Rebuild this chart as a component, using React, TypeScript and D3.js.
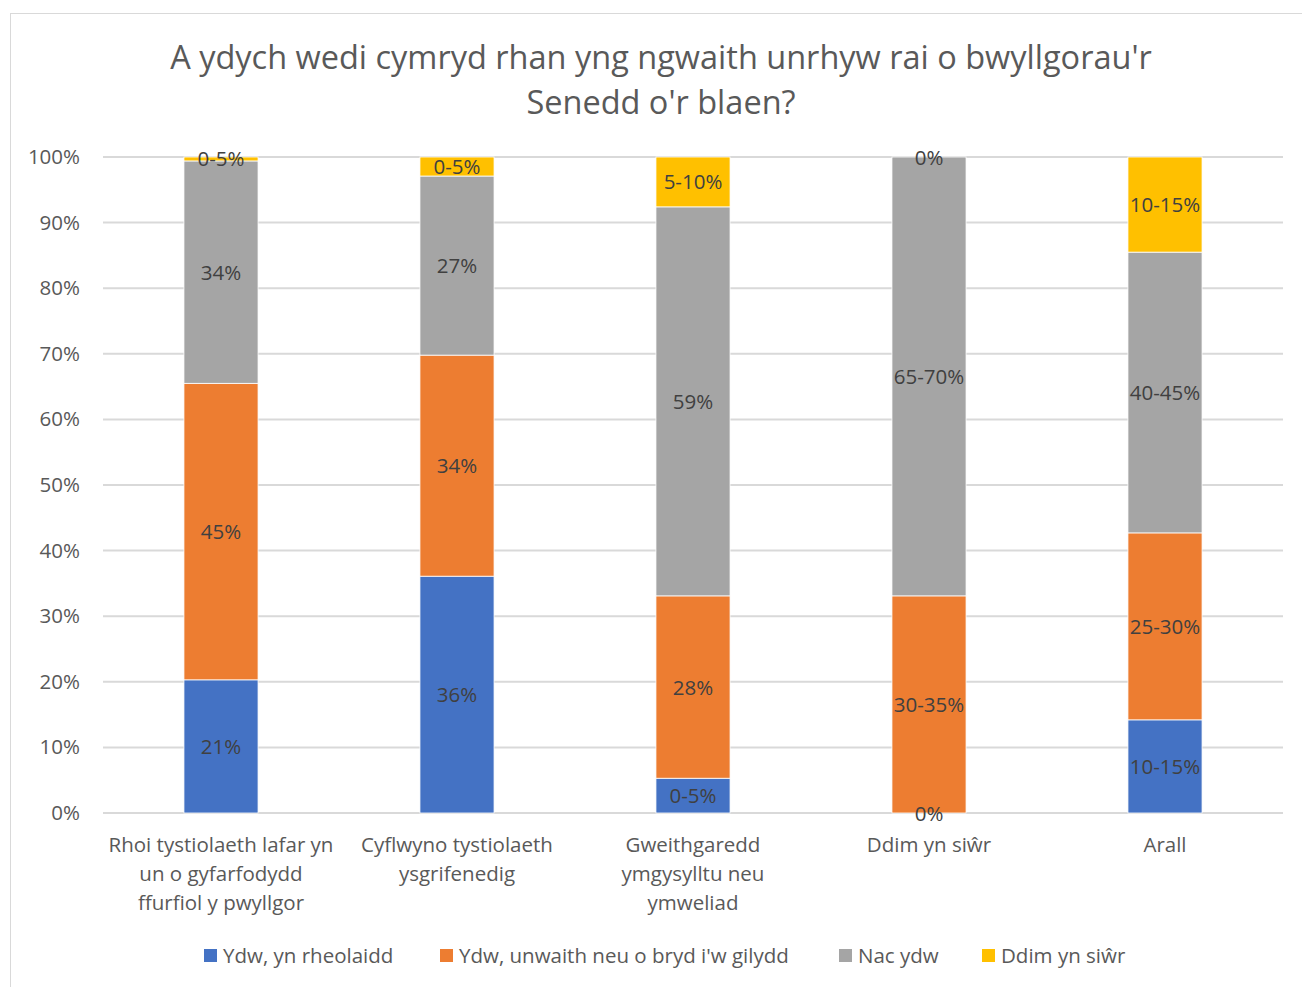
import React from "react";
import * as d3 from "d3";

const categories = [
  ["Rhoi tystiolaeth lafar yn", "un o gyfarfodydd", "ffurfiol y pwyllgor"],
  ["Cyflwyno tystiolaeth", "ysgrifenedig"],
  ["Gweithgaredd", "ymgysylltu neu", "ymweliad"],
  ["Ddim yn siŵr"],
  ["Arall"],
];
const seriesNames = [
  "Ydw, yn rheolaidd",
  "Ydw, unwaith neu o bryd i'w gilydd",
  "Nac ydw",
  "Ddim yn siŵr",
];
const colors = ["#4472c4", "#ed7d31", "#a5a5a5", "#ffc000"];

// values (%)
const regular = [20.3, 36.1, 5.3, 0, 14.2];
const occasional = [45.2, 33.7, 27.8, 33.1, 28.5];
const notYet = [33.9, 27.3, 59.3, 66.9, 42.8];
const unsure = [0.6, 2.9, 7.6, 0, 14.5];

// labels shown on the bars
const regularLabels = ["21%", "36%", "0-5%", "0%", "10-15%"];
const occasionalLabels = ["45%", "34%", "28%", "30-35%", "25-30%"];
const notYetLabels = ["34%", "27%", "59%", "65-70%", "40-45%"];
const unsureLabels = ["0-5%", "0-5%", "5-10%", "0%", "10-15%"];

const yTicks = [0, 10, 20, 30, 40, 50, 60, 70, 80, 90, 100];

const W = 1302;
const H = 987;
const FONT = "'Open Sans', sans-serif";
const FS = 20.5;

export default function App() {
  const margin = { left: 103, right: 19, top: 157, bottom: 174 };
  const x = d3
    .scaleBand<number>()
    .domain(d3.range(categories.length))
    .range([margin.left, W - margin.right])
    .paddingInner(0.686)
    .paddingOuter(0.343);
  const y = d3.scaleLinear().domain([0, 100]).range([H - margin.bottom, margin.top]);

  const values = [regular, occasional, notYet, unsure];
  const labels = [regularLabels, occasionalLabels, notYetLabels, unsureLabels];
  const rows = categories.map((_, i) => {
    const r: any = { i };
    values.forEach((v, s) => (r["s" + s] = v[i]));
    return r;
  });
  const stacked = d3.stack<any>().keys(["s0", "s1", "s2", "s3"])(rows);

  const bw = x.bandwidth();

  // legend square positions
  const legendX = [204, 440, 839, 982];

  return (
    <svg width={W} height={H} style={{ display: "block", position: "absolute", left: 0, top: 0 }}>
      <rect x={10.5} y={13.5} width={W} height={H} fill="#fff" stroke="#d9d9d9" />
      <text x={661} y={69} textAnchor="middle" fontFamily={FONT} fontSize={32.5} fill="#595959">
        A ydych wedi cymryd rhan yng ngwaith unrhyw rai o bwyllgorau'r
      </text>
      <text x={661} y={114} textAnchor="middle" fontFamily={FONT} fontSize={32.5} fill="#595959">
        Senedd o'r blaen?
      </text>

      {yTicks.map((t) => (
        <g key={t}>
          <line x1={margin.left} x2={W - margin.right} y1={y(t)} y2={y(t)} stroke="#d9d9d9" strokeWidth={2} />
          <text x={80} y={y(t) + 7} textAnchor="end" fontFamily={FONT} fontSize={FS} fill="#595959">
            {t}%
          </text>
        </g>
      ))}

      {stacked.map((layer, s) => (
        <g key={s}>
          {layer.map((d, i) =>
            d[1] - d[0] > 0 ? (
              <rect
                key={i}
                x={x(i)}
                y={y(d[1])}
                width={bw}
                height={y(d[0]) - y(d[1])}
                fill={colors[s]}
                stroke="#fff"
                strokeWidth={0.8}
              />
            ) : null
          )}
        </g>
      ))}

      {stacked.map((layer, s) =>
        layer.map((d, i) => {
          const lab = labels[s][i];
          if (!lab) return null;
          const cx = (x(i) as number) + bw / 2;
          const cy = (y(d[0]) + y(d[1])) / 2;
          return (
            <text key={s + "-" + i} x={cx} y={cy + 7.5} textAnchor="middle" fontFamily={FONT} fontSize={FS} fill="#404040">
              {lab}
            </text>
          );
        })
      )}

      {categories.map((lines, i) => (
        <text key={i} textAnchor="middle" fontFamily={FONT} fontSize={FS} fill="#595959">
          {lines.map((l, j) => (
            <tspan key={j} x={(x(i) as number) + bw / 2} y={852 + j * 29}>
              {l}
            </tspan>
          ))}
        </text>
      ))}

      {seriesNames.map((n, s) => (
        <g key={n}>
          <rect x={legendX[s]} y={949} width={13} height={13} fill={colors[s]} />
          <text x={legendX[s] + 19} y={963} fontFamily={FONT} fontSize={FS} fill="#595959">
            {n}
          </text>
        </g>
      ))}
    </svg>
  );
}
